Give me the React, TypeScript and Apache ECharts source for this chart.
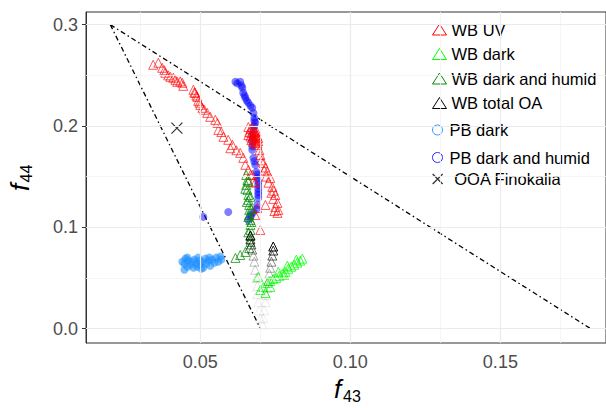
import React, { useEffect, useRef } from 'react';
import * as echarts from 'echarts';

const xTicks = [0.05, 0.1, 0.15];
const yTicks = [0.0, 0.1, 0.2, 0.3];
const xMinor = [0.025, 0.075, 0.125, 0.175];
const yMinor = [0.05, 0.15, 0.25];

const triangleLeft = [[0.02, 0.3], [0.07, 0.0]];
const triangleRight = [[0.02, 0.3], [0.18, 0.0]];

const wbUV = [
  [0.0343, 0.2604], [0.036, 0.2624], [0.0373, 0.2574], [0.038, 0.255], [0.0383, 0.2525], [0.0393, 0.25],
  [0.04, 0.2485], [0.041, 0.2475], [0.0417, 0.2455], [0.0423, 0.2436], [0.0433, 0.244], [0.044, 0.2426],
  [0.0443, 0.2396], [0.0477, 0.2357], [0.048, 0.233], [0.0483, 0.2327], [0.0487, 0.23], [0.049, 0.2287],
  [0.0493, 0.2248], [0.0497, 0.223], [0.05, 0.2208], [0.0507, 0.2179], [0.0513, 0.216], [0.0523, 0.2129],
  [0.0533, 0.209], [0.055, 0.206], [0.0557, 0.203], [0.056, 0.1961], [0.057, 0.194], [0.0577, 0.1892],
  [0.0593, 0.1863], [0.0607, 0.1813], [0.06, 0.178], [0.062, 0.176], [0.0633, 0.1734], [0.0643, 0.1685],
  [0.065, 0.1616], [0.066, 0.1566], [0.0667, 0.1517], [0.0677, 0.145],
  [0.066, 0.199], [0.0667, 0.197], [0.0673, 0.1985], [0.068, 0.196], [0.0687, 0.195], [0.0663, 0.194],
  [0.067, 0.193], [0.0677, 0.1925], [0.0683, 0.191], [0.069, 0.19], [0.0667, 0.1895], [0.0673, 0.188],
  [0.068, 0.187], [0.0687, 0.186], [0.0693, 0.185], [0.0677, 0.1845], [0.0683, 0.1835], [0.069, 0.183],
  [0.067, 0.186], [0.0687, 0.189], [0.066, 0.191], [0.0693, 0.188], [0.0675, 0.19], [0.0683, 0.194],
  [0.069, 0.1813], [0.0697, 0.176], [0.07, 0.1714], [0.071, 0.1635], [0.0703, 0.166], [0.0717, 0.159],
  [0.0723, 0.1546], [0.0713, 0.156], [0.0733, 0.1487], [0.072, 0.15], [0.074, 0.1398], [0.0727, 0.144],
  [0.0745, 0.136], [0.075, 0.1319], [0.0737, 0.134], [0.0757, 0.124], [0.0743, 0.128], [0.076, 0.1171],
  [0.075, 0.12], [0.0757, 0.1141], [0.0747, 0.116],
  [0.069, 0.119], [0.0683, 0.112], [0.07, 0.0973], [0.0717, 0.122], [0.0673, 0.1517], [0.0683, 0.144]
];

const wbDark = [
  [0.07, 0.038], [0.071, 0.041], [0.0723, 0.045], [0.0733, 0.047], [0.0743, 0.049], [0.0753, 0.05],
  [0.0763, 0.052], [0.0773, 0.054], [0.0783, 0.056], [0.0793, 0.059], [0.0803, 0.061], [0.0813, 0.063],
  [0.0823, 0.065], [0.0833, 0.067], [0.084, 0.069], [0.0733, 0.041], [0.0717, 0.035], [0.076, 0.056],
  [0.079, 0.062], [0.082, 0.068], [0.078, 0.053], [0.0693, 0.051]
];

const wbDarkHumid = [
  [0.0653, 0.1516], [0.0657, 0.1467], [0.0653, 0.1418], [0.0657, 0.1369], [0.066, 0.1319], [0.066, 0.127],
  [0.0663, 0.122], [0.0663, 0.1171], [0.0663, 0.1121], [0.0667, 0.1072], [0.0667, 0.1023], [0.0667, 0.0973],
  [0.0667, 0.0914], [0.0667, 0.0855], [0.0663, 0.0795], [0.065, 0.0756], [0.0633, 0.0726], [0.0617, 0.0697],
  [0.066, 0.145], [0.065, 0.138], [0.0667, 0.13], [0.0655, 0.125], [0.067, 0.118], [0.066, 0.11],
  [0.067, 0.105], [0.066, 0.095]
];

const wbTotalOA1 = [
  [0.0667, 0.092], [0.0667, 0.088], [0.067, 0.083], [0.0673, 0.078], [0.0677, 0.072], [0.068, 0.066],
  [0.0683, 0.058], [0.0687, 0.05], [0.069, 0.042], [0.069, 0.034], [0.0693, 0.026], [0.0697, 0.018], [0.07, 0.01]
];
const wbTotalOA2 = [
  [0.0743, 0.081], [0.0743, 0.077], [0.074, 0.072], [0.0737, 0.066], [0.0733, 0.06], [0.073, 0.054],
  [0.0727, 0.047], [0.0723, 0.04], [0.072, 0.033], [0.0717, 0.026], [0.0713, 0.018], [0.071, 0.01], [0.0707, 0.004]
];

const pbDark = [
  [0.044, 0.066], [0.0447, 0.064], [0.045, 0.069], [0.0457, 0.061], [0.046, 0.067], [0.0467, 0.063],
  [0.0473, 0.066], [0.0477, 0.06], [0.048, 0.068], [0.0487, 0.064], [0.049, 0.061], [0.0497, 0.067],
  [0.05, 0.063], [0.0507, 0.066], [0.051, 0.06], [0.0517, 0.069], [0.052, 0.064], [0.0527, 0.067],
  [0.0533, 0.062], [0.054, 0.068], [0.0547, 0.065], [0.0553, 0.07], [0.056, 0.066], [0.0567, 0.071],
  [0.057, 0.068], [0.0457, 0.07], [0.0493, 0.07], [0.053, 0.07], [0.0447, 0.058], [0.0503, 0.059]
];

const pbDarkHumid = [
  [0.0617, 0.2436], [0.0633, 0.2436], [0.064, 0.2377], [0.0643, 0.2327], [0.065, 0.2278], [0.066, 0.2228],
  [0.0673, 0.2179], [0.0677, 0.2129], [0.068, 0.208], [0.0683, 0.2031], [0.0677, 0.1961], [0.0673, 0.1912],
  [0.0673, 0.1843], [0.0673, 0.1764], [0.0677, 0.1685], [0.0683, 0.1616], [0.0687, 0.1546], [0.069, 0.1487],
  [0.0693, 0.1418], [0.0693, 0.1349], [0.0693, 0.1289], [0.069, 0.122], [0.0677, 0.1151], [0.0667, 0.1102],
  [0.066, 0.1072], [0.0623, 0.242], [0.0637, 0.24], [0.0647, 0.23], [0.0655, 0.225], [0.0667, 0.22],
  [0.068, 0.205], [0.068, 0.2], [0.0675, 0.188], [0.0673, 0.18], [0.068, 0.165], [0.069, 0.152],
  [0.0693, 0.145], [0.0693, 0.138], [0.0693, 0.132], [0.0687, 0.118], [0.067, 0.112],
  [0.0593, 0.1151], [0.051, 0.1102]
];

const ooaFinokalia = [[0.0422, 0.1978]];

const FONT = "'Liberation Sans', Arial, Helvetica, sans-serif";
const X_PATH = 'path://M0,0L10,10M10,0L0,10';

function fade(points: number[][]) {
  return points.map((p, i) => {
    const t = i / (points.length - 1);
    return { value: p, itemStyle: { opacity: 0.07 + 0.93 * Math.pow(1 - t, 3) } };
  });
}

function hollow(color: string, opacity: number) {
  return { color: 'rgba(0,0,0,0)', borderColor: color, borderWidth: 1, opacity };
}

export default function App() {
  const ref = useRef<HTMLDivElement>(null);
  useEffect(() => {
    if (!ref.current) return;
    const chart = echarts.init(ref.current, undefined, { renderer: 'svg' });
    const gridLine = (axis: 'xAxis' | 'yAxis', v: number, minor: boolean) => ({
      [axis]: v,
      lineStyle: { color: minor ? '#F2F2F2' : '#EBEBEB', width: minor ? 0.8 : 1.2, type: 'solid' }
    });
    const legendText = { fontSize: 16.5, color: '#000', fontFamily: FONT, lineHeight: 16 };
    const titleMain = { fontSize: 26, fontStyle: 'italic', fontFamily: FONT, fill: '#000', align: 'left', verticalAlign: 'middle' };
    const titleSub = { fontSize: 16, fontFamily: FONT, fill: '#000', align: 'left', verticalAlign: 'middle' };
    const option: any = {
      animation: false,
      backgroundColor: '#fff',
      grid: {
        left: 86, top: 12, right: 0, bottom: 65,
        show: true, borderColor: '#333', borderWidth: 1, backgroundColor: '#fff'
      },
      xAxis: {
        type: 'value', min: 0.0119, max: 0.1852,
        splitLine: { show: false },
        axisLine: { show: true, lineStyle: { color: '#333', width: 1 } },
        axisTick: { show: true, length: 4, lineStyle: { color: '#333' }, customValues: xTicks },
        axisLabel: {
          customValues: xTicks, color: '#4D4D4D', fontSize: 18, fontFamily: FONT, margin: 10,
          formatter: (v: number) => v.toFixed(2)
        }
      },
      yAxis: {
        type: 'value', min: -0.0143, max: 0.3125,
        splitLine: { show: false },
        axisLine: { show: true, lineStyle: { color: '#333', width: 1 } },
        axisTick: { show: true, length: 4, lineStyle: { color: '#333' }, customValues: yTicks },
        axisLabel: {
          customValues: yTicks, color: '#4D4D4D', fontSize: 18, fontFamily: FONT, margin: 8,
          formatter: (v: number) => v.toFixed(1)
        }
      },
      graphic: [
        { type: 'text', x: 334, y: 389, style: { ...titleMain, text: 'f' } },
        { type: 'text', x: 343, y: 396, style: { ...titleSub, text: '43' } },
        { type: 'text', x: 20, y: 191, rotation: Math.PI / 2, style: { ...titleMain, text: 'f' } },
        { type: 'text', x: 26, y: 182.5, rotation: Math.PI / 2, style: { ...titleSub, text: '44' } }
      ],
      legend: [
        {
          orient: 'vertical', left: 432, top: 21, padding: 0, itemWidth: 14, itemHeight: 11, itemGap: 7.5,
          textStyle: legendText, selectedMode: false,
          data: [
            { name: 'WB UV', icon: 'triangle', itemStyle: hollow('#FF0000', 1) },
            { name: 'WB dark', icon: 'triangle', itemStyle: hollow('#00FF00', 1) },
            { name: 'WB dark and humid', icon: 'triangle', itemStyle: hollow('#008B00', 1) },
            { name: 'WB total OA', icon: 'triangle', itemStyle: hollow('#000000', 1) }
          ]
        },
        {
          orient: 'vertical', left: 432, top: 121.5, padding: 0, itemWidth: 14, itemHeight: 10, itemGap: 10.5,
          textStyle: legendText, selectedMode: false,
          data: [
            { name: 'PB dark', icon: 'circle', itemStyle: hollow('#3399FF', 1) },
            { name: 'PB dark and humid', icon: 'circle', itemStyle: hollow('#2222FF', 1) }
          ]
        },
        {
          orient: 'vertical', left: 432, top: 170.5, padding: 0, itemWidth: 14, itemHeight: 10,
          textStyle: legendText, selectedMode: false,
          formatter: (n: string) => ' ' + n,
          data: [
            { name: 'OOA Finokalia', icon: X_PATH, itemStyle: { color: 'rgba(0,0,0,0)', borderColor: '#000', borderWidth: 1.3 } }
          ]
        }
      ],
      series: [
        {
          type: 'scatter', name: 'gridlines', data: [], z: 0, silent: true,
          markLine: {
            silent: true, symbol: ['none', 'none'], label: { show: false },
            data: [
              ...xMinor.map((v) => gridLine('xAxis', v, true)),
              ...yMinor.map((v) => gridLine('yAxis', v, true)),
              ...xTicks.map((v) => gridLine('xAxis', v, false)),
              ...yTicks.map((v) => gridLine('yAxis', v, false))
            ]
          }
        },
        {
          type: 'line', name: 'lineL', data: triangleLeft, symbol: 'none', z: 1, silent: true,
          lineStyle: { color: '#000', width: 1.3, type: [5, 3, 1.5, 3] }
        },
        {
          type: 'line', name: 'lineR', data: triangleRight, symbol: 'none', z: 1, silent: true,
          lineStyle: { color: '#000', width: 1.3, type: [5, 3, 1.5, 3] }
        },
        {
          type: 'scatter', name: 'PB dark', data: pbDark, symbol: 'circle', symbolSize: 8, z: 2,
          itemStyle: { color: '#1E90FF', opacity: 0.6 }
        },
        {
          type: 'scatter', name: 'PB dark and humid', data: pbDarkHumid, symbol: 'circle', symbolSize: 8, z: 2,
          itemStyle: { color: '#0000FF', opacity: 0.5 }
        },
        {
          type: 'scatter', name: 'WB UV', data: wbUV, symbol: 'triangle', symbolSize: 9, z: 3,
          itemStyle: hollow('#FF0000', 0.65)
        },
        {
          type: 'scatter', name: 'WB dark', data: wbDark, symbol: 'triangle', symbolSize: 9, z: 3,
          itemStyle: hollow('#00FF00', 0.75)
        },
        {
          type: 'scatter', name: 'WB dark and humid', data: wbDarkHumid, symbol: 'triangle', symbolSize: 9, z: 3,
          itemStyle: hollow('#008B00', 0.75)
        },
        {
          type: 'scatter', name: 'WB total OA', data: [...fade(wbTotalOA1), ...fade(wbTotalOA2)],
          symbol: 'triangle', symbolSize: 9, z: 4,
          itemStyle: { color: 'rgba(0,0,0,0)', borderColor: '#000', borderWidth: 1 }
        },
        {
          type: 'scatter', name: 'OOA Finokalia', data: ooaFinokalia, symbol: X_PATH, symbolSize: 11, z: 4,
          itemStyle: { color: 'rgba(0,0,0,0)', borderColor: '#000', borderWidth: 1.2 }
        }
      ]
    };
    chart.setOption(option);
    return () => chart.dispose();
  }, []);
  return <div ref={ref} style={{ position: 'fixed', left: 0, top: 0, width: 606, height: 408 }} />;
}
